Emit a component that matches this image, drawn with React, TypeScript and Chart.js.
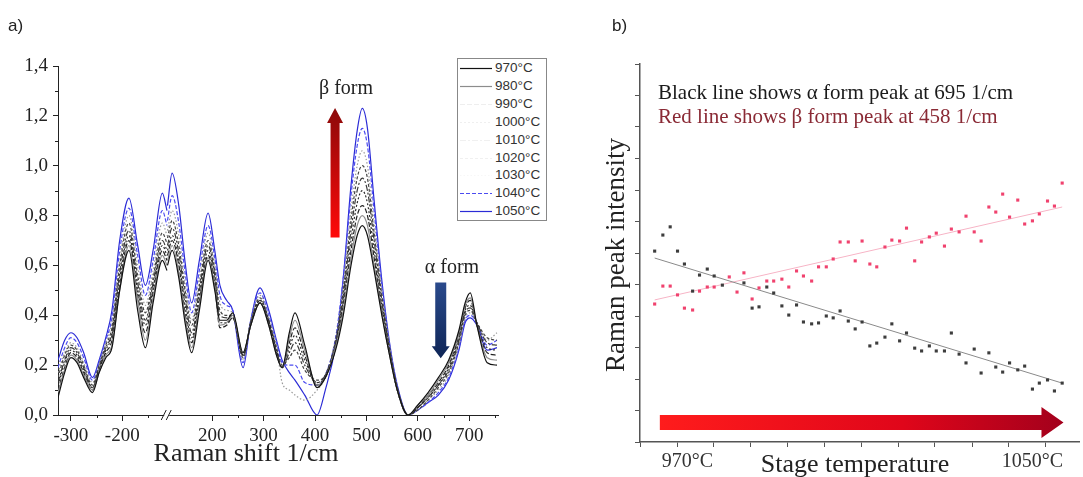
import React, { useEffect, useRef } from "react";
import { Chart, registerables } from "chart.js";

Chart.register(...registerables);

// ---------------- Panel a: Raman spectra ----------------
const ramanLeft = [-325, -312, -300, -288, -275, -258, -245, -232, -220, -205, -187, -170, -155, -140, -122, -113];
const ramanRight = [113, 122, 135, 148, 160, 175, 192, 205, 215, 228, 240, 260, 275, 293, 310, 325, 336, 350, 361, 380, 404, 420, 440, 455, 470, 482, 492, 502, 515, 530, 545, 560, 581, 600, 620, 640, 660, 680, 692, 702, 715, 735, 754];

const seriesLabels = ["970°C", "980°C", "990°C", "1000°C", "1010°C", "1020°C", "1030°C", "1040°C", "1050°C"];

const s970 = [0.07, 0.17, 0.23, 0.21, 0.15, 0.09, 0.17, 0.23, 0.27, 0.50, 0.66, 0.42, 0.27, 0.45, 0.62, 0.58,
  0.60, 0.66, 0.55, 0.36, 0.25, 0.42, 0.62, 0.50, 0.38, 0.38, 0.41, 0.25, 0.36, 0.45, 0.36, 0.24, 0.19, 0.33, 0.41, 0.28, 0.11, 0.15, 0.26, 0.40, 0.60, 0.72, 0.76, 0.72, 0.58, 0.40, 0.24, 0.10, 0.00, 0.04, 0.09, 0.15, 0.22, 0.34, 0.45, 0.49, 0.36, 0.21, 0.20];
const s980 = [0.09, 0.18, 0.24, 0.22, 0.16, 0.10, 0.17, 0.24, 0.28, 0.50, 0.68, 0.46, 0.30, 0.47, 0.64, 0.60,
  0.62, 0.68, 0.57, 0.38, 0.27, 0.44, 0.63, 0.51, 0.36, 0.37, 0.40, 0.25, 0.36, 0.45, 0.36, 0.24, 0.19, 0.31, 0.38, 0.26, 0.12, 0.15, 0.27, 0.42, 0.63, 0.76, 0.80, 0.76, 0.60, 0.41, 0.24, 0.10, 0.00, 0.04, 0.08, 0.14, 0.21, 0.33, 0.44, 0.47, 0.36, 0.23, 0.22];
const s990 = [0.10, 0.19, 0.25, 0.23, 0.17, 0.10, 0.18, 0.25, 0.30, 0.52, 0.70, 0.48, 0.33, 0.49, 0.66, 0.62,
  0.64, 0.70, 0.60, 0.40, 0.29, 0.46, 0.64, 0.52, 0.35, 0.36, 0.39, 0.24, 0.36, 0.45, 0.37, 0.25, 0.19, 0.29, 0.35, 0.24, 0.12, 0.15, 0.27, 0.44, 0.66, 0.80, 0.84, 0.80, 0.63, 0.42, 0.25, 0.10, 0.00, 0.03, 0.08, 0.13, 0.20, 0.32, 0.43, 0.46, 0.36, 0.25, 0.24];
const s1000 = [0.12, 0.21, 0.26, 0.24, 0.18, 0.11, 0.18, 0.26, 0.32, 0.55, 0.72, 0.50, 0.36, 0.51, 0.68, 0.64,
  0.66, 0.72, 0.62, 0.43, 0.31, 0.48, 0.66, 0.54, 0.37, 0.37, 0.39, 0.24, 0.37, 0.46, 0.37, 0.25, 0.19, 0.27, 0.32, 0.22, 0.13, 0.15, 0.28, 0.46, 0.70, 0.85, 0.90, 0.85, 0.66, 0.44, 0.25, 0.10, 0.00, 0.03, 0.07, 0.12, 0.19, 0.31, 0.42, 0.44, 0.36, 0.27, 0.26];
const s1010 = [0.13, 0.22, 0.27, 0.25, 0.19, 0.11, 0.19, 0.27, 0.33, 0.57, 0.74, 0.53, 0.38, 0.53, 0.70, 0.66,
  0.68, 0.75, 0.65, 0.46, 0.33, 0.50, 0.68, 0.56, 0.40, 0.39, 0.40, 0.24, 0.37, 0.46, 0.38, 0.26, 0.19, 0.25, 0.29, 0.20, 0.13, 0.16, 0.29, 0.48, 0.74, 0.90, 0.95, 0.90, 0.70, 0.46, 0.26, 0.11, 0.00, 0.03, 0.07, 0.12, 0.18, 0.30, 0.41, 0.43, 0.37, 0.29, 0.28];
const s1020 = [0.15, 0.24, 0.28, 0.26, 0.20, 0.12, 0.20, 0.28, 0.35, 0.60, 0.77, 0.56, 0.41, 0.55, 0.73, 0.69,
  0.71, 0.78, 0.68, 0.49, 0.36, 0.52, 0.70, 0.58, 0.42, 0.40, 0.40, 0.23, 0.37, 0.47, 0.38, 0.27, 0.20, 0.23, 0.26, 0.18, 0.14, 0.16, 0.30, 0.50, 0.78, 0.95, 1.00, 0.95, 0.73, 0.48, 0.27, 0.11, 0.00, 0.02, 0.06, 0.11, 0.17, 0.29, 0.40, 0.42, 0.37, 0.31, 0.30];
const s1030 = [0.17, 0.25, 0.29, 0.27, 0.21, 0.13, 0.20, 0.29, 0.37, 0.62, 0.80, 0.60, 0.44, 0.58, 0.77, 0.72,
  0.74, 0.82, 0.72, 0.52, 0.38, 0.55, 0.73, 0.60, 0.45, 0.42, 0.41, 0.22, 0.38, 0.48, 0.39, 0.28, 0.13, 0.10, 0.08, 0.06, 0.10, 0.15, 0.30, 0.52, 0.82, 1.00, 1.06, 1.00, 0.77, 0.50, 0.28, 0.11, 0.00, 0.02, 0.06, 0.10, 0.16, 0.28, 0.39, 0.41, 0.37, 0.30, 0.33];
const s1040 = [0.19, 0.27, 0.31, 0.29, 0.23, 0.14, 0.21, 0.30, 0.39, 0.66, 0.83, 0.64, 0.48, 0.62, 0.82, 0.76,
  0.78, 0.88, 0.77, 0.56, 0.41, 0.58, 0.76, 0.63, 0.48, 0.44, 0.42, 0.21, 0.38, 0.49, 0.40, 0.29, 0.21, 0.20, 0.20, 0.13, 0.12, 0.16, 0.31, 0.55, 0.88, 1.08, 1.15, 1.08, 0.82, 0.52, 0.28, 0.11, 0.00, 0.02, 0.05, 0.09, 0.15, 0.27, 0.38, 0.40, 0.37, 0.28, 0.30];
const s1050 = [0.22, 0.30, 0.33, 0.31, 0.25, 0.15, 0.22, 0.31, 0.42, 0.70, 0.87, 0.68, 0.52, 0.66, 0.89, 0.82,
  0.84, 0.97, 0.84, 0.60, 0.45, 0.62, 0.81, 0.66, 0.52, 0.46, 0.42, 0.19, 0.38, 0.51, 0.42, 0.30, 0.22, 0.17, 0.14, 0.08, 0.00, 0.10, 0.28, 0.55, 0.92, 1.14, 1.23, 1.15, 0.86, 0.54, 0.29, 0.12, 0.00, 0.02, 0.05, 0.08, 0.14, 0.26, 0.37, 0.39, 0.36, 0.26, 0.27];

const spectra = [s970, s980, s990, s1000, s1010, s1020, s1030, s1040, s1050];

const xMajorTicks = [-300, -200, 200, 300, 400, 500, 600, 700];
const xMinorTicks = [-250, -150, 250, 350, 450, 550, 650, 750];
const yMajorTicks = [0, 0.2, 0.4, 0.6, 0.8, 1.0, 1.2, 1.4];
const yMinorTicks = [0.1, 0.3, 0.5, 0.7, 0.9, 1.1, 1.3];

const BREAK_SHIFT = 225;
const BREAK_AT = 112.5;
const toAxis = (v: number) => (v < 0 ? v + BREAK_SHIFT : v);
const fromAxis = (a: number) => (a < BREAK_AT ? a - BREAK_SHIFT : a);

const seriesColors = ["#111111", "#8c8c8c", "#222222", "#2e2e2e", "#3a3a3a", "#444444", "#9a9a9a", "#4b4bf0", "#2b2bd6"];
const seriesDash: number[][] = [[], [], [5, 2], [2, 2], [6, 2, 2, 2], [3, 2], [1.5, 2], [4, 2], []];
const legendSampleOpacity = [1, 1, 0.08, 0.08, 0.08, 0.08, 0.08, 1, 1];

// ---------------- Panel b: peak intensity vs stage temperature ----------------
const stageTemps = [962.4, 964.3, 966.0, 967.7, 969.3, 971.2, 972.8, 974.6, 976.2, 978.1, 979.7, 981.5, 983.1, 985.0, 986.6, 988.4, 990.0, 991.9, 993.5, 995.3, 996.9, 998.8, 1000.4, 1002.2, 1003.8, 1005.4, 1007.3, 1008.9, 1010.5, 1012.3, 1013.9, 1015.8, 1017.4, 1019.2, 1020.8, 1022.7, 1024.3, 1026.1, 1027.7, 1029.6, 1031.2, 1033.0, 1034.6, 1036.5, 1038.1, 1039.9, 1041.5, 1043.1, 1044.7, 1046.6, 1048.2, 1050.0, 1051.6, 1053.5, 1055.1, 1056.9];
const alphaPeak695 = [6.06, 6.57, 6.83, 6.06, 5.65, 4.79, 5.30, 5.49, 5.27, 4.98, null, null, 5.05, 4.25, 4.29, 4.92, 4.73, 4.32, 4.03, 4.35, 3.81, 3.75, 3.78, 4.00, 3.94, 4.16, 3.84, 3.59, 3.81, 3.05, 3.14, 3.33, 3.75, 3.21, 3.46, 2.98, 2.89, 3.05, 2.89, 2.89, 3.46, 2.79, 2.51, 2.95, 2.19, 2.83, 2.38, 2.22, 2.51, 2.29, 2.41, 1.68, 1.87, 1.97, 1.62, 1.87];
const betaPeak458 = [4.38, 4.95, 4.95, 4.67, 4.25, 4.19, 4.79, 4.92, 4.92, null, 5.24, 4.76, 5.37, 4.54, 4.89, 5.11, 5.11, 5.17, 4.92, 5.43, 5.27, 5.11, 5.56, 5.56, 5.81, 6.35, 6.35, 5.75, 6.38, 5.65, 5.56, 6.19, 6.41, 6.38, 6.79, 5.75, 6.35, 6.51, 6.63, 6.22, 6.76, 6.67, 7.17, 6.67, 6.38, 7.46, 7.30, 7.87, 7.14, 7.68, 6.92, 7.02, 7.24, 7.65, 7.49, 8.22];
const alphaFitTemps = [962.4, 1056.9];
const alphaFitValues = [5.84, 1.87];
const betaFitTemps = [962.4, 1056.9];
const betaFitValues = [4.51, 7.46];

const bTickMarks = [959, 967.6, 976.1, 984.7, 993.2, 1001.8, 1010.3, 1018.9, 1027.4, 1036, 1044.5, 1053.1];
const bTempLabels = [970, 1050];
const bYTicks = [0, 1, 2, 3, 4, 5, 6, 7, 8, 9, 10, 11, 12];

const SERIF = '"Liberation Serif", "Times New Roman", serif';
const SANS = '"Liberation Sans", Arial, sans-serif';

function vArrow(ctx: CanvasRenderingContext2D, cx: number, yTail: number, yTip: number, shaft: number, headW: number, headH: number, cTail: string, cTip: string) {
  const g = ctx.createLinearGradient(0, yTail, 0, yTip);
  g.addColorStop(0, cTail);
  g.addColorStop(1, cTip);
  const dir = yTip < yTail ? 1 : -1;
  const yBase = yTip + dir * headH;
  ctx.beginPath();
  ctx.moveTo(cx - shaft / 2, yTail);
  ctx.lineTo(cx - shaft / 2, yBase);
  ctx.lineTo(cx - headW / 2, yBase);
  ctx.lineTo(cx, yTip);
  ctx.lineTo(cx + headW / 2, yBase);
  ctx.lineTo(cx + shaft / 2, yBase);
  ctx.lineTo(cx + shaft / 2, yTail);
  ctx.closePath();
  ctx.fillStyle = g;
  ctx.fill();
}

const panelAExtras = {
  id: "panelAExtras",
  afterDraw(chart: any) {
    const { ctx, scales } = chart;
    const x = scales.x;
    const y = scales.y;
    ctx.save();
    ctx.strokeStyle = "#222";
    ctx.lineWidth = 1;
    xMinorTicks.forEach((v) => {
      const px = Math.round(x.getPixelForValue(toAxis(v))) + 0.5;
      ctx.beginPath();
      ctx.moveTo(px, y.bottom);
      ctx.lineTo(px, y.bottom + 3);
      ctx.stroke();
    });
    yMinorTicks.forEach((v) => {
      const py = Math.round(y.getPixelForValue(v)) + 0.5;
      ctx.beginPath();
      ctx.moveTo(x.left, py);
      ctx.lineTo(x.left - 3, py);
      ctx.stroke();
    });
    // axis break marks
    const bx = x.getPixelForValue(BREAK_AT);
    const by = y.bottom;
    ctx.fillStyle = "#fff";
    ctx.fillRect(bx - 3, by - 2, 5, 4);
    ctx.beginPath();
    ctx.moveTo(bx - 6, by + 5);
    ctx.lineTo(bx - 1, by - 5);
    ctx.moveTo(bx - 1, by + 5);
    ctx.lineTo(bx + 4, by - 5);
    ctx.stroke();
    // beta arrow (up) and alpha arrow (down)
    vArrow(ctx, x.getPixelForValue(439), y.getPixelForValue(0.712), y.getPixelForValue(1.232), 9, 16, 15, "#ff0a0a", "#8b0a0a");
    vArrow(ctx, x.getPixelForValue(644.6), y.getPixelForValue(0.532), y.getPixelForValue(0.228), 11, 18, 12, "#2a4a8c", "#0e2556");
    ctx.restore();
  },
};

const panelBExtras = {
  id: "panelBExtras",
  afterDatasetsDraw(chart: any) {
    const { ctx, scales } = chart;
    const x = scales.x;
    const y = scales.y;
    const x0 = x.getPixelForValue(963.6);
    const x1 = x.getPixelForValue(1057.2);
    const cy = y.getPixelForValue(0.62);
    const headL = 22;
    const g = ctx.createLinearGradient(x0, 0, x1, 0);
    g.addColorStop(0, "#ff1c1c");
    g.addColorStop(0.6, "#e0061a");
    g.addColorStop(1, "#a3001c");
    ctx.save();
    ctx.beginPath();
    ctx.moveTo(x0, cy - 7.5);
    ctx.lineTo(x1 - headL, cy - 7.5);
    ctx.lineTo(x1 - headL, cy - 15.5);
    ctx.lineTo(x1, cy);
    ctx.lineTo(x1 - headL, cy + 15.5);
    ctx.lineTo(x1 - headL, cy + 7.5);
    ctx.lineTo(x0, cy + 7.5);
    ctx.closePath();
    ctx.fillStyle = g;
    ctx.fill();
    ctx.restore();
  },
};

export default function App() {
  const refA = useRef<HTMLCanvasElement>(null);
  const refB = useRef<HTMLCanvasElement>(null);

  useEffect(() => {
    const datasetsA = seriesLabels.map((label, i) => ({
      label,
      data: [
        ...ramanLeft.map((r, j) => ({ x: toAxis(r), y: spectra[i][j] })),
        { x: BREAK_AT, y: null },
        ...ramanRight.map((r, j) => ({ x: r, y: spectra[i][ramanLeft.length + j] })),
      ],
      borderColor: seriesColors[i],
      borderDash: seriesDash[i],
      borderWidth: 1.2,
      pointRadius: 0,
      fill: false,
      cubicInterpolationMode: "monotone",
      spanGaps: false,
    }));

    const chartA = new Chart(refA.current as HTMLCanvasElement, {
      type: "line",
      data: { datasets: datasetsA as any },
      plugins: [panelAExtras],
      options: {
        responsive: false,
        animation: false,
        events: [],
        layout: { padding: { left: 0, right: 62, top: 66, bottom: 0 } },
        plugins: { legend: { display: false }, tooltip: { enabled: false } },
        scales: {
          x: {
            type: "linear",
            min: -100,
            max: 756,
            afterBuildTicks: (s: any) => {
              s.ticks = xMajorTicks.map((v) => ({ value: toAxis(v) }));
            },
            afterFit: (s: any) => {
              s.height = 62;
            },
            grid: { drawOnChartArea: false, drawTicks: true, tickLength: 6, color: "#222", tickColor: "#222" },
            border: { color: "#222", width: 1 },
            ticks: {
              autoSkip: false,
              maxRotation: 0,
              padding: 4,
              color: "#222",
              font: { family: SERIF, size: 19 },
              callback: (v: any) => String(Math.round(fromAxis(Number(v)))),
            },
          },
          y: {
            type: "linear",
            min: 0,
            max: 1.4,
            afterBuildTicks: (s: any) => {
              s.ticks = yMajorTicks.map((v) => ({ value: v }));
            },
            afterFit: (s: any) => {
              s.width = 58;
            },
            grid: { drawOnChartArea: false, drawTicks: true, tickLength: 5, color: "#222", tickColor: "#222" },
            border: { color: "#222", width: 1 },
            ticks: {
              padding: 5,
              color: "#222",
              font: { family: SERIF, size: 19 },
              callback: (v: any) => Number(v).toFixed(1).replace(".", ","),
            },
          },
        },
      } as any,
    });

    const chartB = new Chart(refB.current as HTMLCanvasElement, {
      type: "scatter",
      data: {
        datasets: [
          {
            label: "α form peak 695 1/cm",
            data: stageTemps.map((t, i) => ({ x: t, y: alphaPeak695[i] })).filter((p) => p.y !== null),
            pointStyle: "rect",
            pointRadius: 2.2,
            pointBorderWidth: 0,
            backgroundColor: "#3d3d3d",
            borderColor: "#3d3d3d",
          },
          {
            label: "β form peak 458 1/cm",
            data: stageTemps.map((t, i) => ({ x: t, y: betaPeak458[i] })).filter((p) => p.y !== null),
            pointStyle: "rect",
            pointRadius: 2.2,
            pointBorderWidth: 0,
            backgroundColor: "#f0426e",
            borderColor: "#f0426e",
          },
          {
            label: "α fit",
            data: alphaFitTemps.map((t, i) => ({ x: t, y: alphaFitValues[i] })),
            showLine: true,
            pointRadius: 0,
            borderWidth: 1,
            borderColor: "#8a8a8a",
          },
          {
            label: "β fit",
            data: betaFitTemps.map((t, i) => ({ x: t, y: betaFitValues[i] })),
            showLine: true,
            pointRadius: 0,
            borderWidth: 1,
            borderColor: "#f7b4c6",
          },
        ] as any,
      },
      plugins: [panelBExtras],
      options: {
        responsive: false,
        animation: false,
        events: [],
        layout: { padding: { left: 0, right: 0, top: 64, bottom: 0 } },
        plugins: { legend: { display: false }, tooltip: { enabled: false } },
        scales: {
          x: {
            type: "linear",
            min: 959,
            max: 1060.8,
            afterBuildTicks: (s: any) => {
              s.ticks = [...bTickMarks, ...bTempLabels].sort((p, q) => p - q).map((v) => ({ value: v }));
            },
            afterFit: (s: any) => {
              s.height = 35;
            },
            grid: {
              drawOnChartArea: false,
              drawTicks: true,
              tickLength: 5,
              color: "#555",
              tickColor: (c: any) => (c.tick && bTempLabels.includes(c.tick.value) ? "rgba(0,0,0,0)" : "#555"),
            },
            border: { color: "#555", width: 1.5 },
            ticks: {
              autoSkip: false,
              maxRotation: 0,
              padding: 3,
              color: "#333",
              font: { family: SERIF, size: 20 },
              callback: (v: any) => (bTempLabels.includes(Number(v)) ? `${v}°C` : ""),
            },
          },
          y: {
            type: "linear",
            min: 0,
            max: 12,
            afterBuildTicks: (s: any) => {
              s.ticks = bYTicks.map((v) => ({ value: v }));
            },
            afterFit: (s: any) => {
              s.width = 80;
            },
            grid: { drawOnChartArea: false, drawTicks: true, tickLength: 5, color: "#555", tickColor: "#555" },
            border: { color: "#555", width: 1.5 },
            ticks: { callback: () => "" },
          },
        },
      } as any,
    });

    return () => {
      chartA.destroy();
      chartB.destroy();
    };
  }, []);

  const abs = (left: number, top: number, extra: React.CSSProperties = {}): React.CSSProperties => ({
    position: "absolute",
    left,
    top,
    whiteSpace: "nowrap",
    ...extra,
  });

  return (
    <div style={{ position: "fixed", left: 0, top: 0, width: 1083, height: 477, background: "#fff", overflow: "hidden" }}>
      <canvas ref={refA} width={560} height={477} style={{ position: "absolute", left: 0, top: 0, width: 560, height: 477 }} />
      <canvas ref={refB} width={523} height={477} style={{ position: "absolute", left: 560, top: 0, width: 523, height: 477 }} />

      <div style={abs(8, 16, { fontFamily: SANS, fontSize: 17, lineHeight: "20px", color: "#222" })}>a)</div>
      <div style={abs(612, 16, { fontFamily: SANS, fontSize: 17, lineHeight: "20px", color: "#222" })}>b)</div>

      <div style={abs(346, 77, { fontFamily: SERIF, fontSize: 20, lineHeight: "20px", color: "#222", transform: "translateX(-50%)" })}>β form</div>
      <div style={abs(452, 256, { fontFamily: SERIF, fontSize: 20, lineHeight: "20px", color: "#222", transform: "translateX(-50%)" })}>α form</div>
      <div style={abs(246, 440, { fontFamily: SERIF, fontSize: 26, lineHeight: "26px", color: "#222", transform: "translateX(-50%)" })}>Raman shift 1/cm</div>

      <div
        style={{
          position: "absolute",
          left: 457,
          top: 58,
          width: 90,
          height: 163,
          boxSizing: "border-box",
          border: "1px solid #888",
          background: "#fff",
        }}
      >
        {seriesLabels.map((lab, i) => (
          <div key={lab} style={{ position: "absolute", left: 2, top: 17.9 * i, height: 18, width: 86 }}>
            <svg width={32} height={18} style={{ position: "absolute", left: 0, top: 0 }}>
              <line
                x1={0}
                y1={9.5}
                x2={32}
                y2={9.5}
                stroke={seriesColors[i]}
                strokeOpacity={legendSampleOpacity[i]}
                strokeWidth={1.2}
                strokeDasharray={seriesDash[i].length ? seriesDash[i].join(",") : undefined}
              />
            </svg>
            <span style={{ position: "absolute", left: 35, top: 1, fontFamily: SANS, fontSize: 13.5, lineHeight: "16px", color: "#333" }}>{lab}</span>
          </div>
        ))}
      </div>

      <div style={abs(658, 81, { fontFamily: SERIF, fontSize: 21, lineHeight: "22px", color: "#1a1a1a" })}>Black line shows α form peak at 695 1/cm</div>
      <div style={abs(658, 105, { fontFamily: SERIF, fontSize: 21, lineHeight: "22px", color: "#8a2a35" })}>Red line shows β form peak at 458 1/cm</div>

      <div
        style={abs(615, 255, {
          fontFamily: SERIF,
          fontSize: 27,
          lineHeight: "27px",
          color: "#222",
          transform: "translate(-50%, -50%) rotate(-90deg)",
        })}
      >
        Raman peak intensity
      </div>
      <div style={abs(855, 451, { fontFamily: SERIF, fontSize: 26, lineHeight: "26px", color: "#222", transform: "translateX(-50%)" })}>Stage temperature</div>
    </div>
  );
}
